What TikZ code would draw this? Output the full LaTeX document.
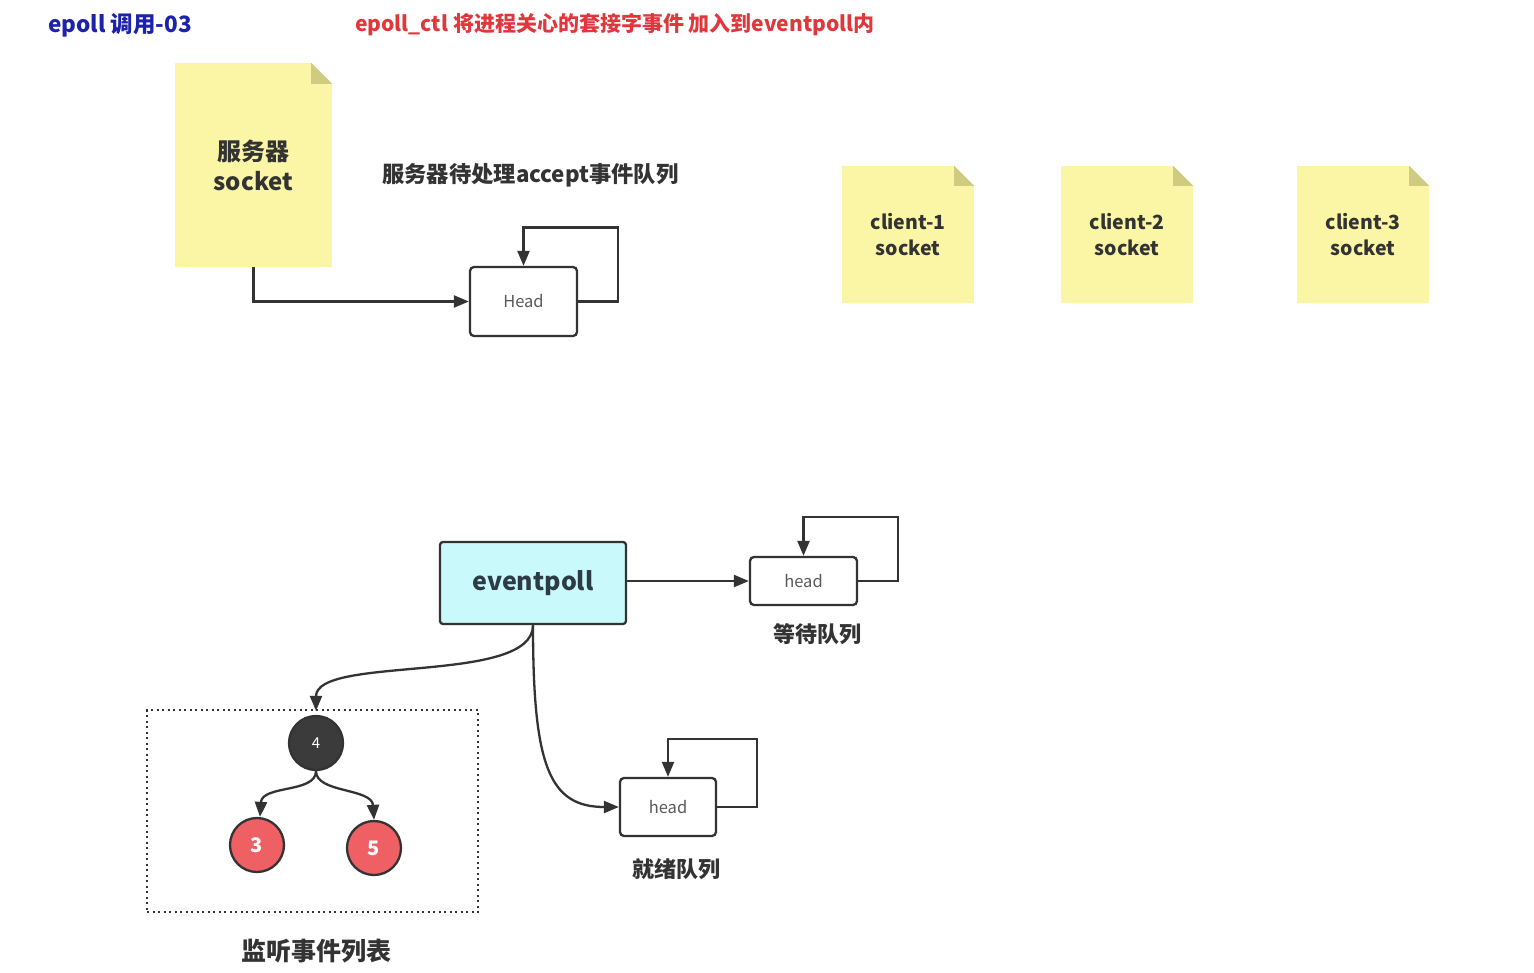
\documentclass[tikz,border=0pt]{standalone}
\usepackage{fontspec}
\setmainfont{Noto Sans CJK SC}
\usetikzlibrary{arrows.meta,calc}
\definecolor{notey}{HTML}{FAF6A6}
\definecolor{foldy}{HTML}{CFCB80}
\definecolor{cyanbox}{HTML}{C9F9FB}
\definecolor{redn}{HTML}{EE6064}
\definecolor{darkn}{HTML}{3B3B3B}
\definecolor{edge}{HTML}{333333}
\definecolor{txt}{HTML}{333333}
\definecolor{eptxt}{HTML}{2D3B45}
\definecolor{bluet}{HTML}{1C22AA}
\definecolor{redt}{HTML}{E0363C}
\tikzset{
  arr/.style={draw=edge, line width=2.3pt, -{Triangle[length=15pt,width=12pt]}},
  notebox/.style={fill=notey, inner sep=0pt, align=center, text=txt, font=\bfseries},
  headbox/.style={draw=edge, line width=2.3pt, rounded corners=4pt, fill=white, text=black!65, font=\fontsize{16.5}{18}\selectfont},
  tnode/.style={circle, draw=edge, line width=2.3pt, minimum size=54pt, inner sep=0pt, text=white},
  lbl/.style={text=txt, font=\bfseries\fontsize{22}{24}\selectfont, inner sep=0pt}
}
\newcommand{\mkfold}[2]{%
  \fill[white] ($(#1.north east)+(-#2,0)$) -- (#1.north east) -- ($(#1.north east)+(0,#2)$) -- cycle;
  \fill[foldy] ($(#1.north east)+(-#2,0)$) -- ($(#1.north east)+(-#2,#2)$) -- ($(#1.north east)+(0,#2)$) -- cycle;}
\begin{document}
\begin{tikzpicture}[x=1pt,y=-1pt]
\useasboundingbox[fill=white] (0,0) rectangle (1534,972);

% titles
\node[anchor=west, text=bluet, font=\bfseries\fontsize{22.5}{26}\selectfont, inner sep=0pt] (t1) at (48,25) {epoll 调用-03};
\node[anchor=west, text=redt, font=\bfseries\fontsize{21}{24}\selectfont, inner sep=0pt] (t2) at (355,25) {epoll\_ctl 将进程关心的套接字事件 加入到eventpoll内};

% server socket note
\node[notebox, minimum width=157pt, minimum height=204pt, font=\bfseries\fontsize{24}{30}\selectfont] (srv) at (253.5,165) {服务器\\socket};
\mkfold{srv}{21}
\node[lbl, anchor=west, font=\bfseries\fontsize{22.3}{24}\selectfont] (acc) at (382,175) {服务器待处理accept事件队列};

% accept head
\node[headbox, minimum width=107pt, minimum height=69pt] (h1) at (523.5,301.5) {Head};
\draw[arr] (srv.south) |- (h1.west);
\draw[arr] (h1.east) -- ++(40,0) -- ++(0,-74) -| (h1.north);

% clients
\node[notebox, minimum width=132pt, minimum height=137pt, font=\bfseries\fontsize{19.5}{26}\selectfont] (c1) at (908,234.5) {client-1\\socket};
\mkfold{c1}{20}
\node[notebox, minimum width=132pt, minimum height=137pt, font=\bfseries\fontsize{19.5}{26}\selectfont] (c2) at (1127,234.5) {client-2\\socket};
\mkfold{c2}{20}
\node[notebox, minimum width=132pt, minimum height=137pt, font=\bfseries\fontsize{19.5}{26}\selectfont] (c3) at (1363,234.5) {client-3\\socket};
\mkfold{c3}{20}

% eventpoll
\node[draw=edge, line width=2.3pt, rounded corners=3pt, fill=cyanbox, minimum width=186pt, minimum height=82pt, text=eptxt, font=\bfseries\fontsize{25}{30}\selectfont] (ep) at (533,583) {eventpoll};

% wait queue
\node[headbox, minimum width=107pt, minimum height=48pt] (h2) at (803.5,581) {head};
\draw[arr] (ep.east |- h2.west) -- (h2.west);
\draw[arr] (h2.east) -- ++(40,0) -- ++(0,-64) -| (h2.north);
\node[lbl] (wl) at (817,634) {等待队列};

% ready queue
\node[headbox, minimum width=96pt, minimum height=58pt] (h3) at (668,807) {head};
\draw[arr] (h3.east) -- ++(40,0) -- ++(0,-68) -| (h3.north);
\node[lbl] (rl) at (676,869) {就绪队列};
\draw[arr] (ep.south) .. controls ($(ep.south)+(0,140)$) and ($(h3.west)+(-70,0)$) .. (h3.west);

% listen list
\node[draw=edge, line width=2.2pt, dash pattern=on 2pt off 3.5pt, minimum width=331pt, minimum height=202pt] (lst) at (312.5,811) {};
\node[tnode, fill=darkn, font=\fontsize{15}{18}\selectfont] (n4) at (316,743) {4};
\node[tnode, fill=redn, font=\bfseries\fontsize{20}{24}\selectfont] (n3) at (257,845) {3};
\node[tnode, fill=redn, font=\bfseries\fontsize{20}{24}\selectfont] (n5) at (374,848) {5};
\draw[arr] (ep.south) .. controls ($(ep.south)+(0,60)$) and ($(n4.north)+(0,-60)$) .. ($(n4.north)+(0,-4)$);
\draw[arr] (n4.south) .. controls ($(n4.south)+(0,22)$) and ($(n3.north)+(5,-32)$) .. ($(n3.north)+(3,0)$);
\draw[arr] (n4.south) .. controls ($(n4.south)+(0,22)$) and ($(n5.north)+(-2,-32)$) .. (n5.north);
\node[lbl, font=\bfseries\fontsize{25}{28}\selectfont] (ll) at (316,951) {监听事件列表};
\end{tikzpicture}
\end{document}
